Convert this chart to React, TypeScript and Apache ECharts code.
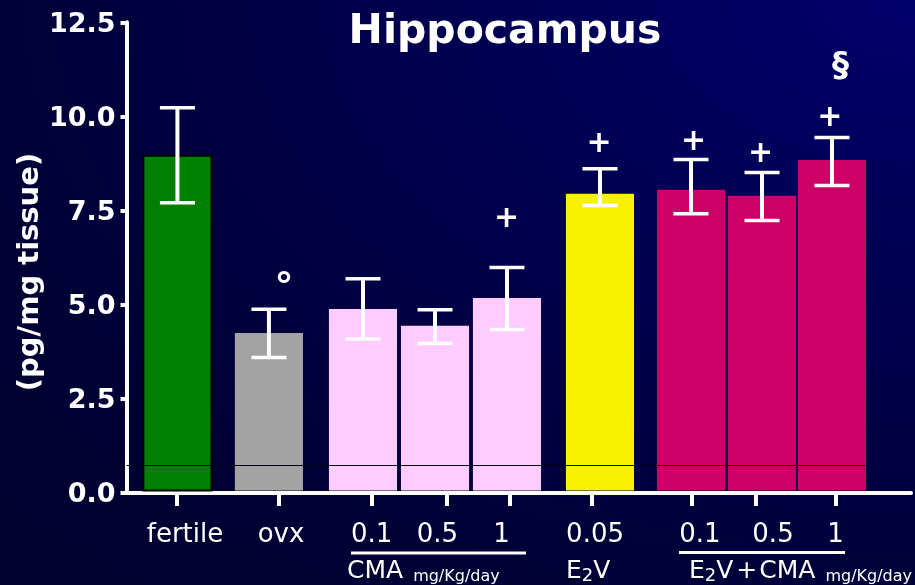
import React, { useEffect, useRef } from "react";
import * as echarts from "echarts";

// ---- data ----
const categories = ["fertile", "ovx", "0.1", "0.5", "1", "0.05", "0.1", "0.5", "1"];
const barX = [0.714, 1.997, 3.316, 4.326, 5.335, 6.639, 7.915, 8.911, 9.892];
const meanValues = [8.95, 4.24, 4.88, 4.43, 5.17, 7.94, 8.05, 7.89, 8.84];
const errorLow = [7.7, 3.59, 4.08, 3.96, 4.33, 7.63, 7.41, 7.23, 8.16];
const errorHigh = [10.23, 4.87, 5.68, 4.86, 5.98, 8.61, 8.85, 8.51, 9.44];
const tickX = [0.708, 2.138, 3.442, 4.494, 5.377, 6.527, 7.929, 8.826, 9.948];
const labelX = [0.82, 2.166, 3.438, 4.36, 5.258, 6.57, 8.041, 9.065, 9.941];
const yTicks = [0, 2.5, 5, 7.5, 10, 12.5];

const annotationText = ["°", "+", "+", "+", "+", "+", "§"];
const annotationX = [2.21, 5.33, 6.625, 7.95, 8.89, 9.86, 10.01];
const annotationY = [5.49, 7.34, 9.32, 9.38, 9.06, 10.02, 11.39];

const referenceLineY = 0.73;
const referenceLineX = [0, 10.355];

// ---- styles ----
const barColors = ["#008000", "#a3a3a3", "#ffccff", "#ffccff", "#ffccff", "#f7f200", "#cc0066", "#cc0066", "#cc0066"];
const FONT = '"DejaVu Sans", Verdana, sans-serif';
const annotationFont: Record<string, string> = {
  "°": `bold 38px ${FONT}`,
  "+": `bold 30px ${FONT}`,
  "§": `bold 34px ${FONT}`,
};

const richBase = {
  a: { fontSize: 25, fontFamily: FONT, lineHeight: 28, color: "#fff" },
  s: { fontSize: 18, fontFamily: FONT, lineHeight: 14, verticalAlign: "bottom", color: "#fff" },
  p: { fontSize: 25, fontFamily: FONT, lineHeight: 28, color: "#fff", padding: [0, 2, 0, 3] },
  m: { fontSize: 16, fontFamily: FONT, lineHeight: 23, verticalAlign: "bottom", color: "#fff", padding: [0, 0, 0, 10] },
};

export default function App() {
  const ref = useRef<HTMLDivElement>(null);

  useEffect(() => {
    if (!ref.current) return;
    const chart = echarts.init(ref.current, undefined, { renderer: "svg" });

    const barData = categories.map((_, i) => [barX[i], meanValues[i], errorLow[i], errorHigh[i], tickX[i], labelX[i]]);
    const annData = annotationText.map((_, i) => [annotationX[i], annotationY[i]]);

    const centered = { align: "center", verticalAlign: "middle", textAlign: "center", textVerticalAlign: "middle" };

    const option: any = {
      animation: false,
      backgroundColor: {
        type: "radial",
        x: 1,
        y: 0,
        r: 1.6,
        colorStops: [
          { offset: 0, color: "#00006a" },
          { offset: 0.6, color: "#00003a" },
          { offset: 1, color: "#000026" },
        ],
      },
      grid: { left: 126.5, right: 4, top: 22.3, bottom: 92.5, containLabel: false },
      xAxis: {
        type: "value",
        min: 0,
        max: 11,
        axisLine: { show: true, lineStyle: { color: "#fff", width: 4 } },
        axisTick: { show: false },
        axisLabel: { show: false },
        splitLine: { show: false },
      },
      yAxis: {
        type: "value",
        min: yTicks[0],
        max: yTicks[yTicks.length - 1],
        interval: 2.5,
        axisLine: { show: true, lineStyle: { color: "#fff", width: 4 } },
        axisTick: { show: true, length: 6, lineStyle: { color: "#fff", width: 4 } },
        axisLabel: {
          color: "#fff",
          fontSize: 27,
          fontWeight: "bold",
          fontFamily: FONT,
          margin: 11,
          formatter: (v: number) => v.toFixed(1),
        },
        splitLine: { show: false },
      },
      series: [
        {
          type: "custom",
          clip: false,
          z: 2,
          data: barData,
          encode: { x: 0, y: 1 },
          renderItem: (params: any, api: any) => {
            const idx = params.dataIndex;
            const x = api.value(0);
            const m = api.value(1);
            const lo = api.value(2);
            const hi = api.value(3);
            const tx = api.value(4);
            const lx = api.value(5);
            const base = api.coord([x, 0]);
            const top = api.coord([x, m]);
            const w = api.size([0.955, 0])[0];
            const pLo = api.coord([x, lo]);
            const pHi = api.coord([x, hi]);
            const tick = api.coord([tx, 0]);
            const lab = api.coord([lx, 0]);
            const cap = 35;
            return {
              type: "group",
              children: [
                {
                  type: "rect",
                  shape: { x: base[0] - w / 2, y: top[1], width: w, height: base[1] - 2 - top[1] },
                  style: { fill: barColors[idx], stroke: idx === 0 ? "#000" : null, lineWidth: 2 },
                },
                {
                  type: "line",
                  shape: { x1: pLo[0], y1: pLo[1], x2: pHi[0], y2: pHi[1] },
                  style: { stroke: "#fff", lineWidth: 4 },
                },
                {
                  type: "line",
                  shape: { x1: pHi[0] - cap / 2, y1: pHi[1], x2: pHi[0] + cap / 2, y2: pHi[1] },
                  style: { stroke: "#fff", lineWidth: 3.5 },
                },
                {
                  type: "line",
                  shape: { x1: pLo[0] - cap / 2, y1: pLo[1], x2: pLo[0] + cap / 2, y2: pLo[1] },
                  style: { stroke: "#fff", lineWidth: 3.5 },
                },
                {
                  type: "line",
                  shape: { x1: tick[0], y1: base[1] + 2, x2: tick[0], y2: base[1] + 13.5 },
                  style: { stroke: "#fff", lineWidth: 4 },
                },
                {
                  type: "text",
                  x: lab[0],
                  y: base[1] + 40.5,
                  style: { text: categories[idx], fill: "#fff", font: `26px ${FONT}`, ...centered },
                },
              ],
            };
          },
        },
        {
          type: "custom",
          clip: false,
          z: 3,
          silent: true,
          data: [[referenceLineX[0], referenceLineY, referenceLineX[1]]],
          encode: { x: 0, y: 1 },
          renderItem: (params: any, api: any) => {
            const a = api.coord([api.value(0), api.value(1)]);
            const b = api.coord([api.value(2), api.value(1)]);
            return {
              type: "line",
              shape: { x1: a[0], y1: Math.round(a[1]) + 0.5, x2: b[0], y2: Math.round(b[1]) + 0.5 },
              style: { stroke: "#000010", lineWidth: 1 },
            };
          },
        },
        {
          type: "custom",
          clip: false,
          z: 4,
          data: annData,
          encode: { x: 0, y: 1 },
          renderItem: (params: any, api: any) => {
            const idx = params.dataIndex;
            const p = api.coord([api.value(0), api.value(1)]);
            const t = annotationText[idx];
            return {
              type: "text",
              x: p[0],
              y: p[1],
              style: { text: t, fill: "#fff", font: annotationFont[t], ...centered },
            };
          },
        },
      ],
      graphic: [
        {
          type: "text",
          x: 505,
          y: 29,
          style: { text: "Hippocampus", fill: "#fff", font: `bold 41px ${FONT}`, ...centered },
        },
        {
          type: "text",
          x: 27.5,
          y: 272,
          rotation: Math.PI / 2,
          style: { text: "(pg/mg tissue)", fill: "#fff", font: `bold 29px ${FONT}`, ...centered },
        },
        {
          type: "line",
          shape: { x1: 351, y1: 553, x2: 526, y2: 553 },
          style: { stroke: "#fff", lineWidth: 3 },
        },
        {
          type: "line",
          shape: { x1: 679, y1: 552.5, x2: 845, y2: 552.5 },
          style: { stroke: "#fff", lineWidth: 3 },
        },
        {
          type: "text",
          x: 347,
          y: 569,
          style: {
            text: "{a|CMA}{m|mg/Kg/day}",
            fill: "#fff",
            verticalAlign: "middle",
            textVerticalAlign: "middle",
            rich: richBase,
          },
        },
        {
          type: "text",
          x: 566,
          y: 569,
          style: {
            text: "{a|E}{s|2}{a|V}",
            fill: "#fff",
            verticalAlign: "middle",
            textVerticalAlign: "middle",
            rich: richBase,
          },
        },
        {
          type: "text",
          x: 689,
          y: 569,
          style: {
            text: "{a|E}{s|2}{a|V}{p|+}{a|CMA}{m|mg/Kg/day}",
            fill: "#fff",
            verticalAlign: "middle",
            textVerticalAlign: "middle",
            rich: richBase,
          },
        },
      ],
    };

    chart.setOption(option);
    return () => chart.dispose();
  }, []);

  return <div ref={ref} style={{ position: "fixed", left: 0, top: 0, width: 915, height: 585 }} />;
}
